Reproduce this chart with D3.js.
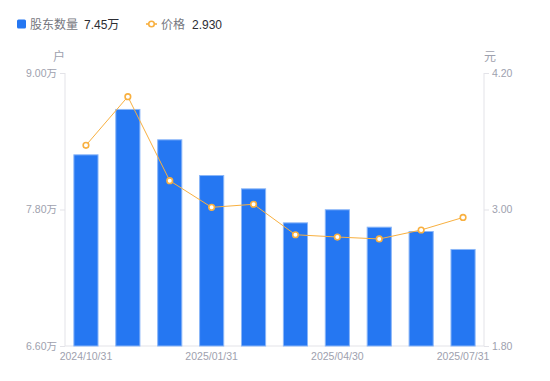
<!DOCTYPE html>
<html><head><meta charset="utf-8">
<script src="https://cdn.jsdelivr.net/npm/d3@7/dist/d3.min.js"></script>
<style>
html,body{margin:0;padding:0;background:#fff;}
svg text{font-family:"Liberation Sans","Noto Sans CJK SC",sans-serif;}
</style></head>
<body><svg id="c" width="550" height="381"></svg>
<script>
const dates = ["2024/10/31","2024/11/30","2024/12/31","2025/01/31","2025/02/28","2025/03/31","2025/04/30","2025/05/31","2025/06/30","2025/07/31"];
const holders = [8.285, 8.684, 8.417, 8.103, 7.986, 7.687, 7.802, 7.649, 7.611, 7.453];
const prices = [3.564, 3.992, 3.253, 3.019, 3.046, 2.778, 2.758, 2.741, 2.820, 2.930];
const leftTicks = [6.6, 7.8, 9.0];
const rightTicks = [1.8, 3.0, 4.2];
const xLabels = ["2024/10/31","2025/01/31","2025/04/30","2025/07/31"];

const svg = d3.select("#c");
const L = 65, R = 484, T = 73, B = 346;
const x = d3.scaleBand().domain(dates).range([L, R]).paddingInner(0.4).paddingOuter(0.2);
const yL = d3.scaleLinear().domain([6.6, 9.0]).range([B, T]);
const yR = d3.scaleLinear().domain([1.8, 4.2]).range([B, T]);
const axisCol = "#e3e3e8", tickTextCol = "#9ea1ae";

// axes
const gl = svg.append("g").attr("transform", `translate(${L},0)`)
  .call(d3.axisLeft(yL).tickValues(leftTicks).tickSize(5).tickPadding(3).tickFormat(d => d3.format(".2f")(d) + "万"));
const gr = svg.append("g").attr("transform", `translate(${R},0)`)
  .call(d3.axisRight(yR).tickValues(rightTicks).tickSize(5).tickPadding(3).tickFormat(d3.format(".2f")));
const gb = svg.append("g").attr("transform", `translate(0,${B})`)
  .call(d3.axisBottom(x).tickValues(xLabels).tickSize(0).tickPadding(7));
[gl, gr, gb].forEach(g => {
  g.select(".domain").attr("stroke", axisCol);
  g.selectAll(".tick line").attr("stroke", axisCol);
  g.selectAll("text").attr("fill", tickTextCol).style("font-size", "10.5px");
});
gl.select(".domain").attr("d", `M0,${T}V${B}`);
gr.select(".domain").attr("d", `M0,${T}V${B}`);
gb.select(".domain").attr("d", `M${L},0H${R}`);
gb.selectAll(".tick text").attr("dy", "0.71em");

// units
svg.append("text").attr("x", 59).attr("y", 61).attr("text-anchor", "middle").attr("fill", tickTextCol).style("font-size", "12px").text("户");
svg.append("text").attr("x", 490).attr("y", 61).attr("text-anchor", "middle").attr("fill", tickTextCol).style("font-size", "12px").text("元");

// bars
svg.append("g").selectAll("rect").data(holders).join("rect")
  .attr("x", (d, i) => x(dates[i]) + 0.5)
  .attr("y", d => yL(d) + 0.5)
  .attr("width", x.bandwidth() - 1)
  .attr("height", d => B - yL(d) - 0.5)
  .attr("fill", "#2577f2")
  .attr("stroke", "#8ab6f8").attr("stroke-width", 1);

// line
const cx = (i) => x(dates[i]) + x.bandwidth() / 2;
const lineCol = "#f8b040";
svg.append("path").datum(prices)
  .attr("d", d3.line().x((d, i) => cx(i)).y(d => yR(d)))
  .attr("fill", "none").attr("stroke", lineCol).attr("stroke-width", 1);
svg.append("g").selectAll("circle").data(prices).join("circle")
  .attr("cx", (d, i) => cx(i)).attr("cy", d => yR(d)).attr("r", 2.8)
  .attr("fill", "#fff").attr("stroke", lineCol).attr("stroke-width", 1.6);

// legend
const lg = svg.append("g");
lg.append("rect").attr("x", 17).attr("y", 19.5).attr("width", 9).attr("height", 9).attr("rx", 1.5).attr("fill", "#2577f2");
lg.append("text").attr("x", 30).attr("y", 28.5).attr("fill", "#767780").style("font-size", "12px").text("股东数量");
lg.append("text").attr("x", 84).attr("y", 28.5).attr("fill", "#2c2d33").style("font-size", "12px").text(d3.format(".2f")(holders[holders.length - 1]) + "万");
lg.append("line").attr("x1", 146).attr("x2", 157).attr("y1", 24).attr("y2", 24).attr("stroke", lineCol).attr("stroke-width", 1.6);
lg.append("circle").attr("cx", 151.5).attr("cy", 24).attr("r", 2.8).attr("fill", "#fff").attr("stroke", lineCol).attr("stroke-width", 1.6);
lg.append("text").attr("x", 161).attr("y", 28.5).attr("fill", "#767780").style("font-size", "12px").text("价格");
lg.append("text").attr("x", 192).attr("y", 28.5).attr("fill", "#2c2d33").style("font-size", "12px").text(d3.format(".3f")(prices[prices.length - 1]));
</script></body></html>
